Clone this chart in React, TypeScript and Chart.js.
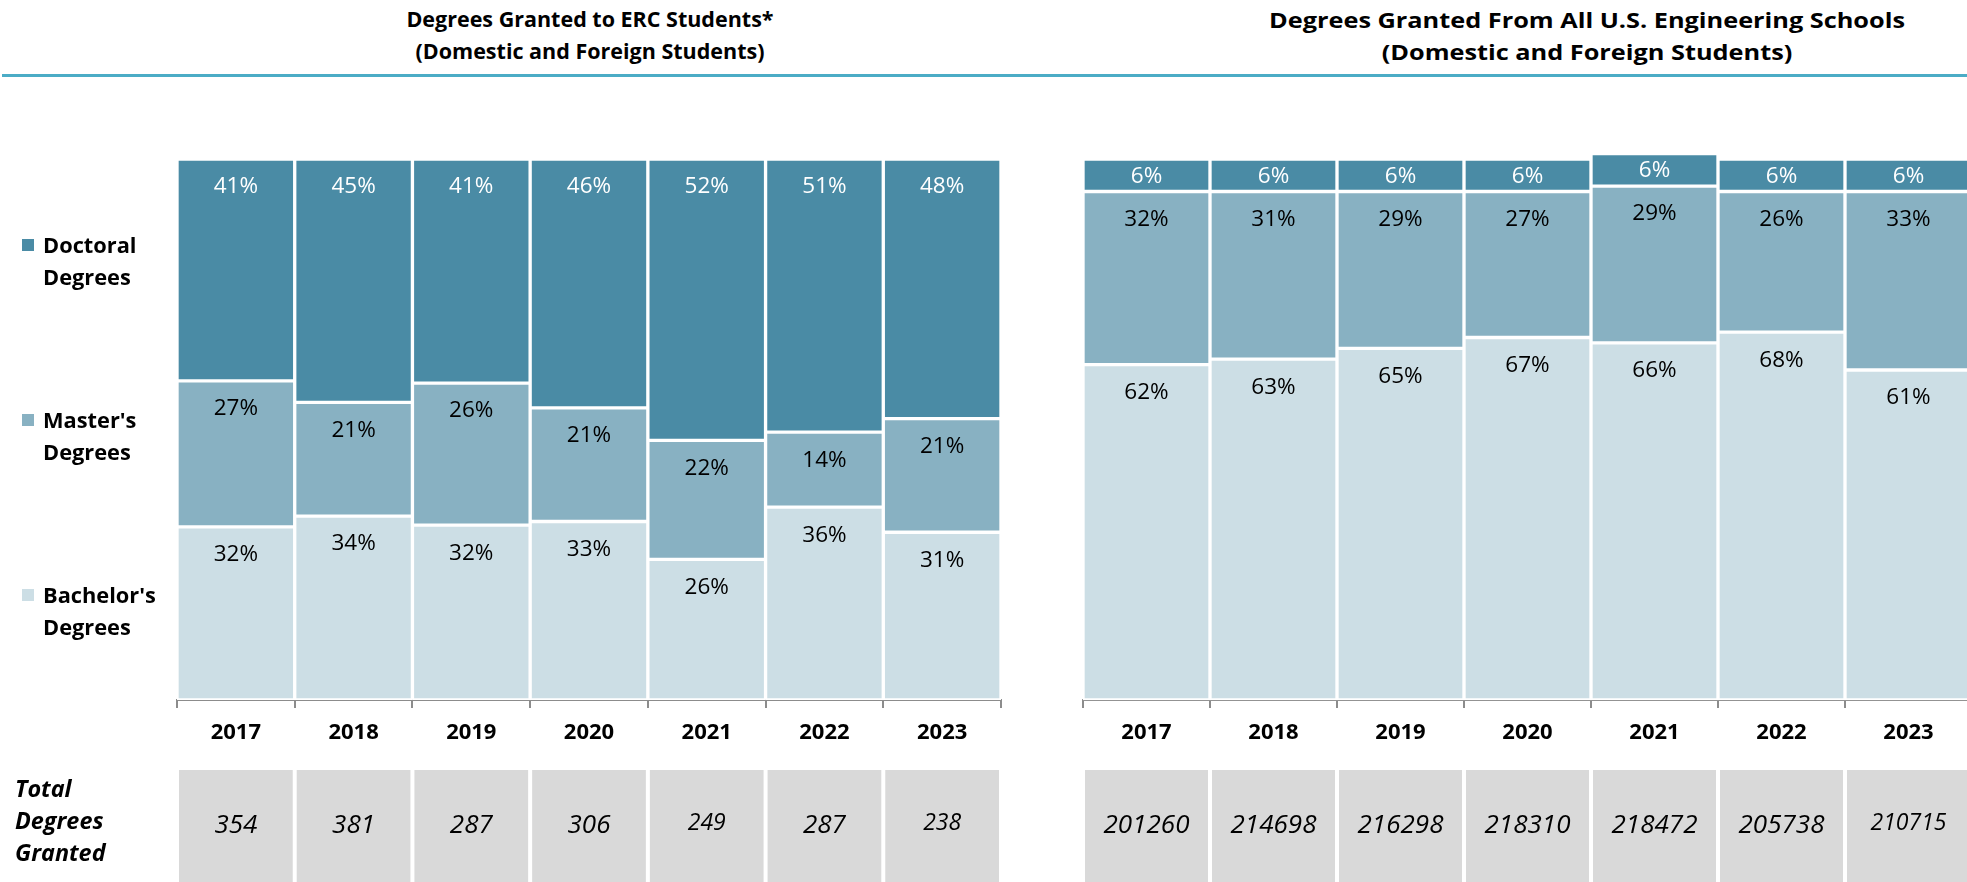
import React, { useEffect, useRef } from "react";
import { Chart, registerables } from "chart.js";

Chart.register(...registerables);

// ---------- data ----------
const YEARS = ["2017", "2018", "2019", "2020", "2021", "2022", "2023"];

const ERC_BACHELOR = [32, 34, 32, 33, 26, 36, 31];
const ERC_MASTER = [27, 21, 26, 21, 22, 14, 21];
const ERC_DOCTORAL = [41, 45, 41, 46, 52, 51, 48];
const ERC_TOTALS = [354, 381, 287, 306, 249, 287, 238];

const ALL_BACHELOR = [62, 63, 65, 67, 66, 68, 61];
const ALL_MASTER = [32, 31, 29, 27, 29, 26, 33];
const ALL_DOCTORAL = [6, 6, 6, 6, 6, 6, 6];
const ALL_TOTALS = [201260, 214698, 216298, 218310, 218472, 205738, 210715];

const SERIES_NAMES = ["Bachelor's Degrees", "Master's Degrees", "Doctoral Degrees"];

// ---------- style ----------
const FONT = '"Open Sans", "Noto Sans", sans-serif';
const C_DOC = "#4A8BA5";
const C_MAS = "#88B1C2";
const C_BAC = "#CCDEE5";
const C_TABLE = "#D9D9D9";
const C_AXIS = "#8C8C8C";
const C_RULE = "#4BACC6";

type PanelProps = {
  bachelor: number[];
  master: number[];
  doctoral: number[];
  totals: number[];
  smallTotals: number[];
  normalize: boolean;
  left: number;
  width: number;
  padLeft: number;
  padRight: number;
};

const segLabelPlugin = {
  id: "segLabels",
  afterDatasetsDraw(chart: any, _args: any, opts: any) {
    const ctx = chart.ctx;
    const area = chart.chartArea;
    ctx.save();
    ctx.font = `22.5px ${FONT}`;
    ctx.textAlign = "center";
    ctx.textBaseline = "middle";
    chart.data.datasets.forEach((ds: any, di: number) => {
      const meta = chart.getDatasetMeta(di);
      meta.data.forEach((el: any, i: number) => {
        const p = el.getProps(["x", "y", "base"], true);
        let top = p.y;
        if (opts.clipTop) top = Math.max(top, area.top);
        const h = p.base - top;
        const cy = top + Math.min(28, h / 2 + 1);
        ctx.fillStyle = di === 2 ? "#FFFFFF" : "#000000";
        ctx.fillText(`${ds.raw[i]}%`, p.x, cy);
      });
    });
    ctx.restore();
  },
};

const tablePlugin = {
  id: "totalsRow",
  afterDraw(chart: any, _args: any, opts: any) {
    const ctx = chart.ctx;
    const xs = chart.scales.x;
    const pitch = xs.width / opts.totals.length;
    ctx.save();
    opts.totals.forEach((t: number, i: number) => {
      const cx = xs.getPixelForValue(i);
      ctx.fillStyle = C_TABLE;
      ctx.fillRect(cx - pitch / 2 + 2, 770, pitch - 4, 112);
      const small = opts.smallTotals.includes(i);
      ctx.font = `italic ${small ? 23 : 26}px ${FONT}`;
      ctx.fillStyle = "#000000";
      ctx.textAlign = "center";
      ctx.textBaseline = "middle";
      ctx.fillText(String(t), cx, small ? 823 : 826);
    });
    ctx.restore();
  },
};

function Panel(props: PanelProps) {
  const ref = useRef<HTMLCanvasElement | null>(null);
  useEffect(() => {
    if (!ref.current) return;
    const sums = YEARS.map((_, i) => props.bachelor[i] + props.master[i] + props.doctoral[i]);
    const scaleVals = (arr: number[]) =>
      props.normalize ? arr.map((v, i) => (v / sums[i]) * 100) : arr.slice();
    const mk = (label: string, arr: number[], color: string) => ({
      label,
      data: scaleVals(arr),
      raw: arr,
      backgroundColor: color,
      borderColor: "#FFFFFF",
      borderWidth: 2,
      borderSkipped: false,
      categoryPercentage: 1,
      barPercentage: 1,
      clip: props.normalize ? 0 : false,
    });
    const chart = new Chart(ref.current, {
      type: "bar",
      data: {
        labels: YEARS,
        datasets: [
          mk(SERIES_NAMES[0], props.bachelor, C_BAC),
          mk(SERIES_NAMES[1], props.master, C_MAS),
          mk(SERIES_NAMES[2], props.doctoral, C_DOC),
        ] as any,
      },
      options: {
        animation: false,
        responsive: false,
        maintainAspectRatio: false,
        layout: { padding: { left: props.padLeft, right: props.padRight, top: 159, bottom: 0 } },
        plugins: {
          legend: { display: false },
          tooltip: { enabled: false },
          segLabels: { clipTop: props.normalize },
          totalsRow: { totals: props.totals, smallTotals: props.smallTotals },
        } as any,
        scales: {
          x: {
            stacked: true,
            grid: {
              offset: true,
              drawOnChartArea: false,
              drawTicks: true,
              tickLength: 8,
              color: C_AXIS,
              lineWidth: 2,
            },
            border: { display: true, color: C_AXIS, width: 2 },
            ticks: {
              color: "#000000",
              padding: 12,
              maxRotation: 0,
              autoSkip: false,
              font: { family: FONT, size: 22, weight: "bold" },
            },
            afterFit: (s: any) => {
              s.height = 182;
            },
          },
          y: { stacked: true, display: false, min: 0, max: 100 },
        },
      } as any,
      plugins: [segLabelPlugin, tablePlugin],
    });
    return () => chart.destroy();
  }, []);
  return (
    <canvas
      ref={ref}
      width={props.width}
      height={882}
      style={{ position: "absolute", left: props.left, top: 0, width: props.width, height: 882 }}
    />
  );
}

const LEGEND = [
  { lines: ["Doctoral", "Degrees"], color: C_DOC, cy: 245 },
  { lines: ["Master's", "Degrees"], color: C_MAS, cy: 420 },
  { lines: ["Bachelor's", "Degrees"], color: C_BAC, cy: 595 },
];

export default function App() {
  const titleStyle: React.CSSProperties = {
    position: "absolute",
    top: 3,
    width: 800,
    textAlign: "center",
    fontWeight: 700,
    fontSize: 21.5,
    lineHeight: "32px",
    color: "#000",
    whiteSpace: "nowrap",
  };
  return (
    <div
      style={{
        position: "fixed",
        left: 0,
        top: 0,
        width: 1967,
        height: 882,
        overflow: "hidden",
        background: "#FFFFFF",
        fontFamily: FONT,
      }}
    >
      <div style={{ ...titleStyle, left: 590 - 400 }}>
        Degrees Granted to ERC Students*
        <br />
        (Domestic and Foreign Students)
      </div>
      <div
        style={{
          ...titleStyle,
          left: 1587 - 400,
          fontSize: 22,
          transform: "scaleX(1.15)",
          transformOrigin: "50% 50%",
        }}
      >
        Degrees Granted From All U.S. Engineering Schools
        <br />
        (Domestic and Foreign Students)
      </div>
      <div style={{ position: "absolute", left: 2, right: 0, top: 74, height: 3, background: C_RULE }} />

      <Panel
        bachelor={ERC_BACHELOR}
        master={ERC_MASTER}
        doctoral={ERC_DOCTORAL}
        totals={ERC_TOTALS}
        smallTotals={[4, 6]}
        normalize={true}
        left={0}
        width={1040}
        padLeft={177}
        padRight={39}
      />
      <Panel
        bachelor={ALL_BACHELOR}
        master={ALL_MASTER}
        doctoral={ALL_DOCTORAL}
        totals={ALL_TOTALS}
        smallTotals={[6]}
        normalize={false}
        left={1040}
        width={940}
        padLeft={43}
        padRight={8}
      />

      {LEGEND.map((l) => (
        <div key={l.lines[0]}>
          <div
            style={{
              position: "absolute",
              left: 22,
              top: l.cy - 6,
              width: 12,
              height: 12,
              background: l.color,
            }}
          />
          <div
            style={{
              position: "absolute",
              left: 43,
              top: l.cy - 16,
              fontWeight: 700,
              fontSize: 21.8,
              lineHeight: "32px",
              color: "#000",
              whiteSpace: "nowrap",
            }}
          >
            {l.lines[0]}
            <br />
            {l.lines[1]}
          </div>
        </div>
      ))}

      <div
        style={{
          position: "absolute",
          left: 15,
          top: 772,
          fontWeight: 700,
          fontStyle: "italic",
          fontSize: 23.4,
          lineHeight: "32px",
          color: "#000",
        }}
      >
        Total
        <br />
        Degrees
        <br />
        Granted
      </div>
    </div>
  );
}
